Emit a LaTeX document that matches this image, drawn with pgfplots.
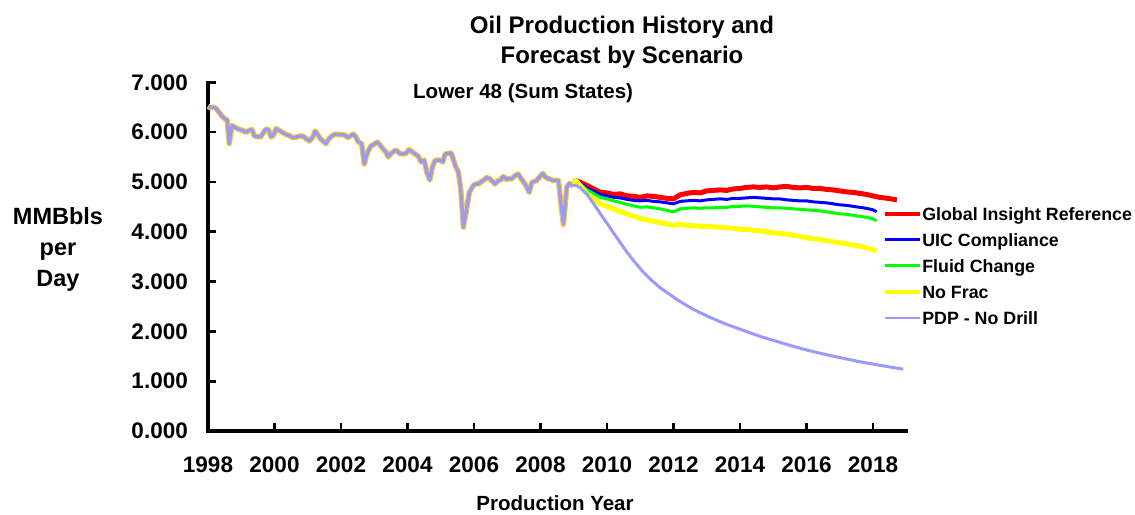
\documentclass[border=0pt]{standalone}
\usepackage{fontspec}
\setmainfont{Liberation Sans}
\usepackage{pgfplots}
\pgfplotsset{compat=1.18}
\definecolor{pdp}{RGB}{153,153,255}
\definecolor{histo}{RGB}{255,200,30}
\definecolor{cred}{RGB}{255,0,0}
\definecolor{cblue}{RGB}{0,0,255}
\definecolor{cgreen}{RGB}{0,255,0}
\definecolor{cyellow}{RGB}{255,255,0}
\begin{document}
\begin{tikzpicture}[x=1pt,y=1pt]
\useasboundingbox (0pt,0pt) rectangle (1135pt,514pt);
\begin{axis}[
  at={(208pt,83pt)}, anchor=south west,
  scale only axis, width=698.25pt, height=348.7pt,
  xmin=1998, xmax=2019, ymin=0, ymax=7,
  axis lines=left, axis line style={-, line width=3.2pt, line cap=rect},
  xtick={1998,2000,2002,2004,2006,2008,2010,2012,2014,2016,2018},
  xticklabels={1998,2000,2002,2004,2006,2008,2010,2012,2014,2016,2018},
  ytick={0,1,2,3,4,5,6,7},
  yticklabels={0.000,1.000,2.000,3.000,4.000,5.000,6.000,7.000},
  tick align=inside, major tick length=8pt,
  tick style={line width=2.7pt, black},
  ticklabel style={font=\fontsize{22.5}{26}\selectfont\bfseries},
  xticklabel style={anchor=north, inner sep=0pt, yshift=-25.7pt},
  yticklabel style={anchor=east, inner sep=0pt, xshift=-20pt},
  clip=false,
  line join=round,
  legend style={
    at={(rel axis cs:0.9663,0.642)}, anchor=north west,
    draw=none, fill=none, inner sep=0pt, outer sep=0pt,
    font=\fontsize{17.8}{20}\selectfont\bfseries,
    row sep=9.1pt,
    nodes={inner xsep=0pt, inner ysep=0pt, text height=13pt, text depth=4pt},
    /tikz/every even column/.append style={column sep=3.4pt},
  },
  legend cell align=left,
  legend image code/.code={\draw[#1] (0pt,2pt) -- (35.6pt,2pt);},
]
% history outline
\addplot[histo, line width=5.5pt, forget plot] coordinates {
(1998.00,6.52)(1998.08,6.49)(1998.17,6.50)(1998.25,6.47)(1998.33,6.40)(1998.42,6.32)
(1998.50,6.27)(1998.58,6.24)(1998.64,5.77)(1998.72,6.13)(1998.80,6.10)(1998.88,6.07)
(1998.96,6.05)(1999.05,6.03)(1999.15,6.00)(1999.25,6.04)(1999.32,6.05)(1999.40,5.92)
(1999.50,5.91)(1999.58,5.90)(1999.66,5.98)(1999.74,6.06)(1999.82,6.05)(1999.90,5.90)
(1999.98,5.95)(2000.05,6.07)(2000.15,6.03)(2000.25,5.99)(2000.35,5.95)(2000.45,5.93)
(2000.55,5.89)(2000.65,5.90)(2000.75,5.92)(2000.85,5.92)(2000.95,5.87)(2001.05,5.82)
(2001.15,5.90)(2001.22,6.02)(2001.30,5.95)(2001.38,5.87)(2001.46,5.82)(2001.55,5.77)
(2001.63,5.86)(2001.72,5.92)(2001.82,5.96)(2001.92,5.95)(2002.02,5.95)(2002.12,5.94)
(2002.20,5.89)(2002.30,5.93)(2002.37,5.96)(2002.45,5.90)(2002.52,5.80)(2002.62,5.77)
(2002.70,5.36)(2002.80,5.60)(2002.90,5.72)(2003.00,5.76)(2003.10,5.80)(2003.17,5.74)
(2003.27,5.66)(2003.35,5.60)(2003.42,5.50)(2003.52,5.58)(2003.60,5.62)(2003.68,5.63)
(2003.77,5.57)(2003.85,5.56)(2003.95,5.57)(2004.05,5.65)(2004.15,5.60)(2004.23,5.56)
(2004.32,5.52)(2004.41,5.40)(2004.50,5.44)(2004.58,5.20)(2004.67,5.04)(2004.75,5.30)
(2004.83,5.43)(2004.92,5.44)(2005.00,5.43)(2005.06,5.40)(2005.13,5.56)(2005.22,5.57)
(2005.31,5.58)(2005.38,5.45)(2005.45,5.30)(2005.53,5.20)(2005.60,4.86)(2005.68,4.09)
(2005.76,4.39)(2005.86,4.79)(2005.98,4.93)(2006.06,4.96)(2006.14,4.96)(2006.23,5.01)
(2006.30,5.04)(2006.38,5.09)(2006.48,5.06)(2006.56,5.01)(2006.63,4.96)(2006.73,5.03)
(2006.80,5.04)(2006.88,5.11)(2006.98,5.05)(2007.06,5.07)(2007.13,5.06)(2007.22,5.12)
(2007.33,5.16)(2007.40,5.08)(2007.46,5.03)(2007.56,4.93)(2007.66,4.79)(2007.74,4.99)
(2007.82,5.01)(2007.89,5.03)(2007.97,5.10)(2008.07,5.17)(2008.14,5.10)(2008.22,5.07)
(2008.30,5.05)(2008.38,5.03)(2008.46,5.03)(2008.54,5.03)(2008.61,4.59)(2008.69,4.15)
(2008.79,4.89)(2008.87,4.97)(2008.93,4.94)(2008.99,4.92)
};
% forecasts
\addplot[cred, line width=5pt, forget plot] coordinates {
(2008.99,4.92)(2009.06,5.03)(2009.4,4.93)(2009.8,4.79)(2010.0,4.78)(2010.2,4.75)(2010.4,4.76)
(2010.6,4.72)(2010.8,4.71)(2011.0,4.69)(2011.2,4.72)(2011.4,4.71)(2011.6,4.69)(2011.8,4.67)
(2012.0,4.66)(2012.2,4.74)(2012.4,4.77)(2012.6,4.79)(2012.8,4.78)(2013.0,4.82)(2013.2,4.83)
(2013.4,4.84)(2013.6,4.83)(2013.8,4.86)(2014.0,4.87)(2014.2,4.89)(2014.4,4.90)(2014.6,4.89)
(2014.8,4.90)(2015.0,4.88)(2015.2,4.90)(2015.4,4.91)(2015.6,4.89)(2015.8,4.88)(2016.0,4.89)
(2016.2,4.87)(2016.4,4.87)(2016.6,4.85)(2016.8,4.84)(2017.0,4.82)(2017.2,4.80)(2017.4,4.79)
(2017.6,4.77)(2017.8,4.75)(2018.0,4.72)(2018.2,4.69)(2018.45,4.67)(2018.72,4.64)
};
\addplot[cblue, line width=3pt, forget plot] coordinates {
(2008.99,4.92)(2009.06,5.03)(2009.4,4.88)(2009.8,4.75)(2010.0,4.72)(2010.2,4.69)(2010.4,4.68)
(2010.6,4.65)(2010.8,4.63)(2011.0,4.62)(2011.2,4.63)(2011.4,4.61)(2011.6,4.60)(2011.8,4.58)
(2012.0,4.56)(2012.2,4.61)(2012.4,4.62)(2012.6,4.63)(2012.8,4.62)(2013.0,4.64)(2013.2,4.65)
(2013.4,4.66)(2013.6,4.65)(2013.8,4.67)(2014.0,4.67)(2014.2,4.68)(2014.4,4.69)(2014.6,4.68)
(2014.8,4.67)(2015.0,4.66)(2015.2,4.66)(2015.4,4.64)(2015.6,4.63)(2015.8,4.62)(2016.0,4.62)
(2016.2,4.60)(2016.4,4.59)(2016.6,4.58)(2016.8,4.56)(2017.0,4.54)(2017.2,4.53)(2017.4,4.51)
(2017.6,4.49)(2017.8,4.47)(2018.0,4.44)(2018.11,4.40)
};
\addplot[cgreen, line width=3pt, forget plot] coordinates {
(2008.99,4.92)(2009.06,5.03)(2009.4,4.84)(2009.8,4.69)(2010.0,4.66)(2010.2,4.62)(2010.4,4.59)
(2010.6,4.55)(2010.8,4.52)(2011.0,4.49)(2011.2,4.50)(2011.4,4.48)(2011.6,4.46)(2011.8,4.43)
(2012.0,4.40)(2012.2,4.46)(2012.4,4.47)(2012.6,4.48)(2012.8,4.47)(2013.0,4.48)(2013.2,4.48)
(2013.4,4.49)(2013.6,4.49)(2013.8,4.51)(2014.0,4.51)(2014.2,4.52)(2014.4,4.51)(2014.6,4.50)
(2014.8,4.49)(2015.0,4.48)(2015.2,4.48)(2015.4,4.47)(2015.6,4.46)(2015.8,4.45)(2016.0,4.44)
(2016.2,4.43)(2016.4,4.42)(2016.6,4.40)(2016.8,4.38)(2017.0,4.36)(2017.2,4.35)(2017.4,4.33)
(2017.6,4.31)(2017.8,4.29)(2018.0,4.26)(2018.11,4.22)
};
\addplot[cyellow, line width=5pt, forget plot] coordinates {
(2008.99,4.92)(2009.06,5.03)(2009.4,4.76)(2009.8,4.56)(2010.0,4.51)(2010.2,4.46)(2010.4,4.41)
(2010.6,4.36)(2010.8,4.31)(2011.0,4.27)(2011.2,4.24)(2011.4,4.21)(2011.6,4.18)(2011.8,4.16)
(2012.0,4.13)(2012.2,4.15)(2012.4,4.13)(2012.6,4.12)(2012.8,4.11)(2013.0,4.11)(2013.2,4.10)
(2013.4,4.09)(2013.6,4.08)(2013.8,4.07)(2014.0,4.05)(2014.2,4.05)(2014.4,4.03)(2014.6,4.02)
(2014.8,4.00)(2015.0,3.98)(2015.2,3.97)(2015.4,3.95)(2015.6,3.93)(2015.8,3.91)(2016.0,3.88)
(2016.2,3.86)(2016.4,3.85)(2016.6,3.82)(2016.8,3.80)(2017.0,3.78)(2017.2,3.76)(2017.4,3.73)
(2017.6,3.71)(2017.8,3.68)(2018.0,3.64)(2018.11,3.61)
};
\addplot[pdp, line width=3pt, forget plot] coordinates {
(2008.99,4.92)(2009.06,4.94)(2009.2,4.88)(2009.39,4.76)(2009.6,4.56)(2009.79,4.37)(2010.0,4.17)
(2010.19,3.98)(2010.4,3.78)(2010.59,3.60)(2010.8,3.42)(2011.09,3.19)(2011.35,3.02)
(2011.59,2.88)(2011.85,2.76)(2012.10,2.64)(2012.35,2.54)(2012.60,2.44)(2013.1,2.28)
(2013.60,2.14)(2014.1,2.02)(2014.60,1.90)(2015.1,1.80)(2015.60,1.70)(2016.1,1.61)
(2016.61,1.53)(2017.1,1.46)(2017.61,1.39)(2018.2,1.32)(2018.91,1.24)
};
% history core
\addplot[pdp, line width=3.3pt, forget plot] coordinates {
(1998.00,6.52)(1998.08,6.49)(1998.17,6.50)(1998.25,6.47)(1998.33,6.40)(1998.42,6.32)
(1998.50,6.27)(1998.58,6.24)(1998.64,5.77)(1998.72,6.13)(1998.80,6.10)(1998.88,6.07)
(1998.96,6.05)(1999.05,6.03)(1999.15,6.00)(1999.25,6.04)(1999.32,6.05)(1999.40,5.92)
(1999.50,5.91)(1999.58,5.90)(1999.66,5.98)(1999.74,6.06)(1999.82,6.05)(1999.90,5.90)
(1999.98,5.95)(2000.05,6.07)(2000.15,6.03)(2000.25,5.99)(2000.35,5.95)(2000.45,5.93)
(2000.55,5.89)(2000.65,5.90)(2000.75,5.92)(2000.85,5.92)(2000.95,5.87)(2001.05,5.82)
(2001.15,5.90)(2001.22,6.02)(2001.30,5.95)(2001.38,5.87)(2001.46,5.82)(2001.55,5.77)
(2001.63,5.86)(2001.72,5.92)(2001.82,5.96)(2001.92,5.95)(2002.02,5.95)(2002.12,5.94)
(2002.20,5.89)(2002.30,5.93)(2002.37,5.96)(2002.45,5.90)(2002.52,5.80)(2002.62,5.77)
(2002.70,5.36)(2002.80,5.60)(2002.90,5.72)(2003.00,5.76)(2003.10,5.80)(2003.17,5.74)
(2003.27,5.66)(2003.35,5.60)(2003.42,5.50)(2003.52,5.58)(2003.60,5.62)(2003.68,5.63)
(2003.77,5.57)(2003.85,5.56)(2003.95,5.57)(2004.05,5.65)(2004.15,5.60)(2004.23,5.56)
(2004.32,5.52)(2004.41,5.40)(2004.50,5.44)(2004.58,5.20)(2004.67,5.04)(2004.75,5.30)
(2004.83,5.43)(2004.92,5.44)(2005.00,5.43)(2005.06,5.40)(2005.13,5.56)(2005.22,5.57)
(2005.31,5.58)(2005.38,5.45)(2005.45,5.30)(2005.53,5.20)(2005.60,4.86)(2005.68,4.09)
(2005.76,4.39)(2005.86,4.79)(2005.98,4.93)(2006.06,4.96)(2006.14,4.96)(2006.23,5.01)
(2006.30,5.04)(2006.38,5.09)(2006.48,5.06)(2006.56,5.01)(2006.63,4.96)(2006.73,5.03)
(2006.80,5.04)(2006.88,5.11)(2006.98,5.05)(2007.06,5.07)(2007.13,5.06)(2007.22,5.12)
(2007.33,5.16)(2007.40,5.08)(2007.46,5.03)(2007.56,4.93)(2007.66,4.79)(2007.74,4.99)
(2007.82,5.01)(2007.89,5.03)(2007.97,5.10)(2008.07,5.17)(2008.14,5.10)(2008.22,5.07)
(2008.30,5.05)(2008.38,5.03)(2008.46,5.03)(2008.54,5.03)(2008.61,4.59)(2008.69,4.15)
(2008.79,4.89)(2008.87,4.97)(2008.93,4.94)(2008.99,4.92)
};
\addlegendimage{cred, line width=4pt}
\addlegendentry{Global Insight Reference}
\addlegendimage{cblue, line width=2.7pt}
\addlegendentry{UIC Compliance}
\addlegendimage{cgreen, line width=2.7pt}
\addlegendentry{Fluid Change}
\addlegendimage{cyellow, line width=4pt}
\addlegendentry{No Frac}
\addlegendimage{pdp, line width=2.7pt}
\addlegendentry{PDP - No Drill}
\end{axis}
\node[font=\fontsize{24}{28}\selectfont\bfseries, anchor=base, inner sep=0pt] at (622pt,480.7pt) {Oil Production History and};
\node[font=\fontsize{24}{28}\selectfont\bfseries, anchor=base, inner sep=0pt] at (622pt,450.7pt) {Forecast by Scenario};
\node[font=\fontsize{20.5}{24}\selectfont\bfseries, anchor=base west, inner sep=0pt] at (413pt,415.7pt) {Lower 48 (Sum States)};
\node[font=\fontsize{23.5}{26}\selectfont\bfseries, anchor=base, inner sep=0pt] at (58pt,289pt) {MMBbls};
\node[font=\fontsize{23.5}{26}\selectfont\bfseries, anchor=base, inner sep=0pt] at (58pt,258pt) {per};
\node[font=\fontsize{23.5}{26}\selectfont\bfseries, anchor=base, inner sep=0pt] at (58pt,227pt) {Day};
\node[font=\fontsize{20.5}{24}\selectfont\bfseries, anchor=base, inner sep=0pt] at (555pt,3pt) {Production Year};
\end{tikzpicture}
\end{document}
